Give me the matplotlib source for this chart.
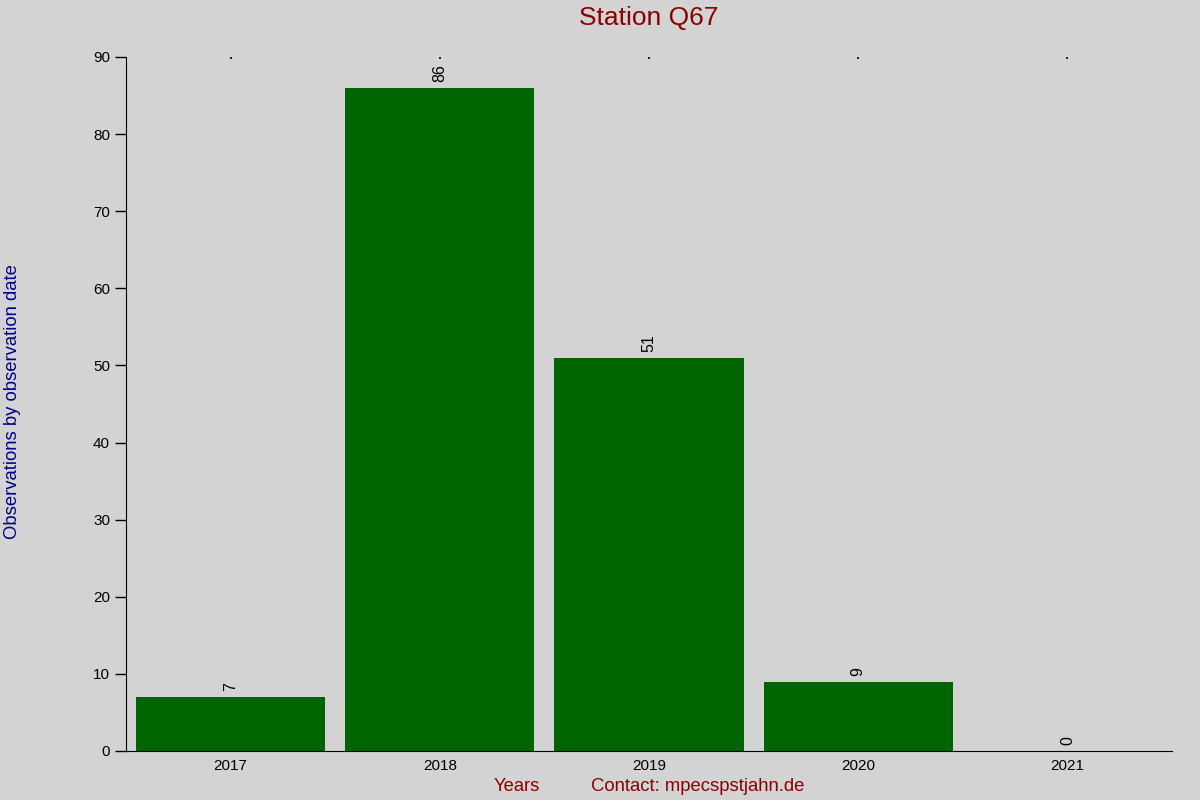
import matplotlib
matplotlib.use("Agg")
import matplotlib.pyplot as plt

plt.rcParams['font.family'] = ['Liberation Sans', 'DejaVu Sans']

years = ["2017", "2018", "2019", "2020", "2021"]
counts = [7, 86, 51, 9, 0]

fig = plt.figure(figsize=(12, 8), dpi=100, facecolor='#d3d3d3')
ax = fig.add_axes([0.105, 0.06125, 0.8717, 0.8675], facecolor='#d3d3d3')

pos = range(len(years))
ax.bar(pos, counts, width=0.905, color='#006400')
for x, v in zip(pos, counts):
    ax.annotate(str(v), (x, v), xytext=(0, 6), textcoords='offset pixels',
                rotation=90, ha='center', va='bottom', fontsize=11.5)

ax.set_xlim(-0.5, 4.5)
ax.set_ylim(0, 90)
ax.set_xticks(list(pos))
ax.set_xticklabels(years, fontsize=11)
ax.set_yticks(range(0, 91, 10))
ax.tick_params(axis='y', labelsize=11, length=8, width=1)
ax.tick_params(axis='x', bottom=False, top=True, direction='in',
               length=1.2, width=1.2, pad=6)

for s in ['top', 'right']:
    ax.spines[s].set_visible(False)

fig.text(0.541, 0.978, "Station Q67", color='#8b0000', fontsize=19,
         ha='center', va='center')
fig.text(0.0105, 0.4985, "Observations by observation date", color='#00008b',
         fontsize=13.3, rotation=90, ha='center', va='center')
fig.text(0.431, 0.017, "Years", color='#8b0000', fontsize=13.2,
         ha='center', va='center')
fig.text(0.5815, 0.017, "Contact: mpecspstjahn.de", color='#8b0000', fontsize=13.3,
         ha='center', va='center')

fig.savefig("out.png", dpi=100, facecolor=fig.get_facecolor())
